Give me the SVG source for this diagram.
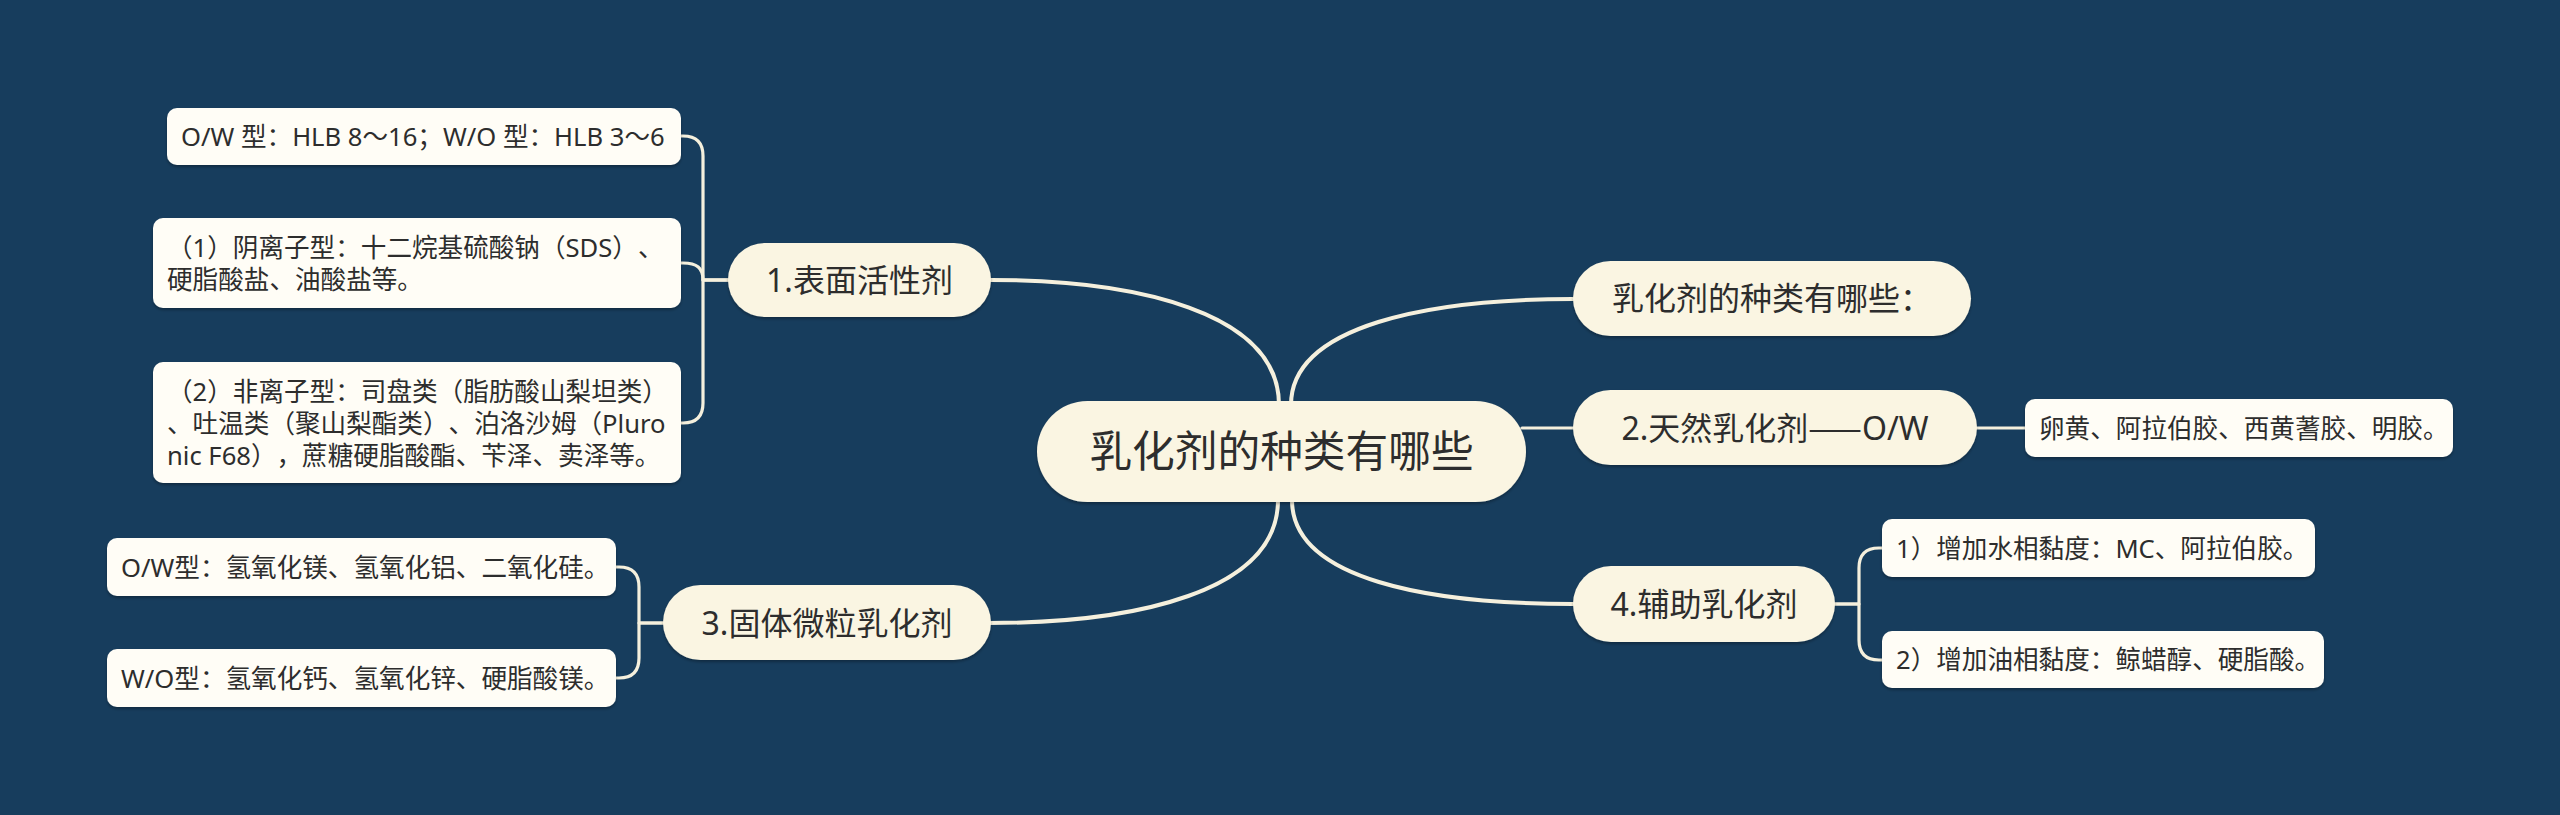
<svg xmlns="http://www.w3.org/2000/svg" width="2560" height="815" viewBox="0 0 2560 815">
  <defs>
    <style>
      .bg { fill: #173d5d; }
      .conn { fill: none; stroke: #f5f0dd; stroke-linecap: round; stroke-linejoin: round; }
      .main { stroke-width: 4; }
      .sub { stroke-width: 3.2; }
      .pill { fill: #faf5e2; }
      .box { fill: #fffdf6; }
      text { font-family: "Noto Sans", "Noto Sans CJK SC", sans-serif; fill: #2d2d2d; text-spacing-trim: space-all; }
      .cjk { font-family: "Noto Sans CJK SC", sans-serif; }
      .t0 { font-size: 42.7px; }
      .t1 { font-size: 32px; }
      .t2 { font-size: 25.6px; }
      .mid { text-anchor: middle; }
    </style>
    <filter id="sh" x="-10%" y="-20%" width="120%" height="150%">
      <feDropShadow dx="0" dy="2" stdDeviation="1.5" flood-color="#000" flood-opacity="0.3"/>
    </filter>
  </defs>

  <rect class="bg" x="0" y="0" width="2560" height="815"/>

  <g id="connectors">
    <path class="conn main" d="M 991 280 C 1135 280 1279 312 1279 405"/>
    <path class="conn main" d="M 989 623 C 1135 623 1278 592 1278 500"/>
    <path class="conn main" d="M 1573 299 C 1430 299 1291 325 1291 405"/>
    <path class="conn main" d="M 1573 604 C 1430 604 1292 580 1292 500"/>
    <path class="conn sub" d="M 1522 428 H 1573"/>
    <path class="conn sub" d="M 728 280 H 703 V 156 Q 703 136 683 136 H 680"/>
    <path class="conn sub" d="M 728 280 H 703 C 703 268 697 263 683 263 H 680"/>
    <path class="conn sub" d="M 728 280 H 703 V 403 Q 703 423 683 423 H 680"/>
    <path class="conn sub" d="M 663 623 H 639 V 587 Q 639 567 619 567 H 615"/>
    <path class="conn sub" d="M 663 623 H 639 V 658 Q 639 678 619 678 H 615"/>
    <path class="conn sub" d="M 1977 428 H 2025"/>
    <path class="conn sub" d="M 1835 604 H 1859 V 568 Q 1859 548 1879 548 H 1883"/>
    <path class="conn sub" d="M 1835 604 H 1859 V 640 Q 1859 660 1879 660 H 1883"/>
  </g>

  <g id="root">
    <rect class="pill" filter="url(#sh)" x="1037" y="401" width="489" height="101" rx="50.5"/>
    <text class="t0 mid" x="1281.5" y="467">乳化剂的种类有哪些</text>
  </g>

  <g id="n-intro">
    <rect class="pill" filter="url(#sh)" x="1573" y="261" width="398" height="75" rx="37.5"/>
    <text class="t1 mid" x="1772" y="310">乳化剂的种类有哪些：</text>
  </g>

  <g id="n1">
    <rect class="pill" filter="url(#sh)" x="728" y="243" width="263" height="74" rx="37"/>
    <text class="t1 mid" x="859.5" y="292">1.表面活性剂</text>
  </g>

  <g id="n1-a">
    <rect class="box" filter="url(#sh)" x="167" y="108" width="514" height="57" rx="10"/>
    <text class="t2" x="181" y="146">O/W 型：HLB 8～16；W/O 型：HLB 3～6</text>
  </g>

  <g id="n1-b">
    <rect class="box" filter="url(#sh)" x="153" y="218" width="528" height="90" rx="10"/>
    <text class="t2" x="167" y="257">（1）阴离子型：十二烷基硫酸钠（SDS）、</text>
    <text class="t2" x="167" y="289">硬脂酸盐、油酸盐等。</text>
  </g>

  <g id="n1-c">
    <rect class="box" filter="url(#sh)" x="153" y="362" width="528" height="121" rx="10"/>
    <text class="t2" x="167" y="400.5">（2）非离子型：司盘类（脂肪酸山梨坦类）</text>
    <text class="t2" x="167" y="432.5">、吐温类（聚山梨酯类）、泊洛沙姆（Pluro</text>
    <text class="t2" x="167" y="464.5">nic F68），蔗糖硬脂酸酯、苄泽、卖泽等。</text>
  </g>

  <g id="n2">
    <rect class="pill" filter="url(#sh)" x="1573" y="390" width="404" height="75" rx="37.5"/>
    <text class="t1 mid" x="1775" y="439.5">2.天然乳化剂<tspan class="cjk">——</tspan>O/W</text>
  </g>

  <g id="n2-a">
    <rect class="box" filter="url(#sh)" x="2025" y="399" width="428" height="58" rx="10"/>
    <text class="t2" x="2039" y="437.5">卵黄、阿拉伯胶、西黄蓍胶、明胶。</text>
  </g>

  <g id="n3">
    <rect class="pill" filter="url(#sh)" x="663" y="585" width="328" height="75" rx="37.5"/>
    <text class="t1 mid" x="827" y="634.5">3.固体微粒乳化剂</text>
  </g>

  <g id="n3-a">
    <rect class="box" filter="url(#sh)" x="107" y="538" width="509" height="58" rx="10"/>
    <text class="t2" x="121" y="576.5">O/W型：氢氧化镁、氢氧化铝、二氧化硅。</text>
  </g>

  <g id="n3-b">
    <rect class="box" filter="url(#sh)" x="107" y="649" width="509" height="58" rx="10"/>
    <text class="t2" x="121" y="687.5">W/O型：氢氧化钙、氢氧化锌、硬脂酸镁。</text>
  </g>

  <g id="n4">
    <rect class="pill" filter="url(#sh)" x="1573" y="566" width="262" height="76" rx="38"/>
    <text class="t1 mid" x="1704" y="616">4.辅助乳化剂</text>
  </g>

  <g id="n4-a">
    <rect class="box" filter="url(#sh)" x="1882" y="519" width="433" height="58" rx="10"/>
    <text class="t2" x="1896" y="557.5">1）增加水相黏度：MC、阿拉伯胶。</text>
  </g>

  <g id="n4-b">
    <rect class="box" filter="url(#sh)" x="1882" y="631" width="442" height="57" rx="10"/>
    <text class="t2" x="1896" y="669">2）增加油相黏度：鲸蜡醇、硬脂酸。</text>
  </g>
</svg>
